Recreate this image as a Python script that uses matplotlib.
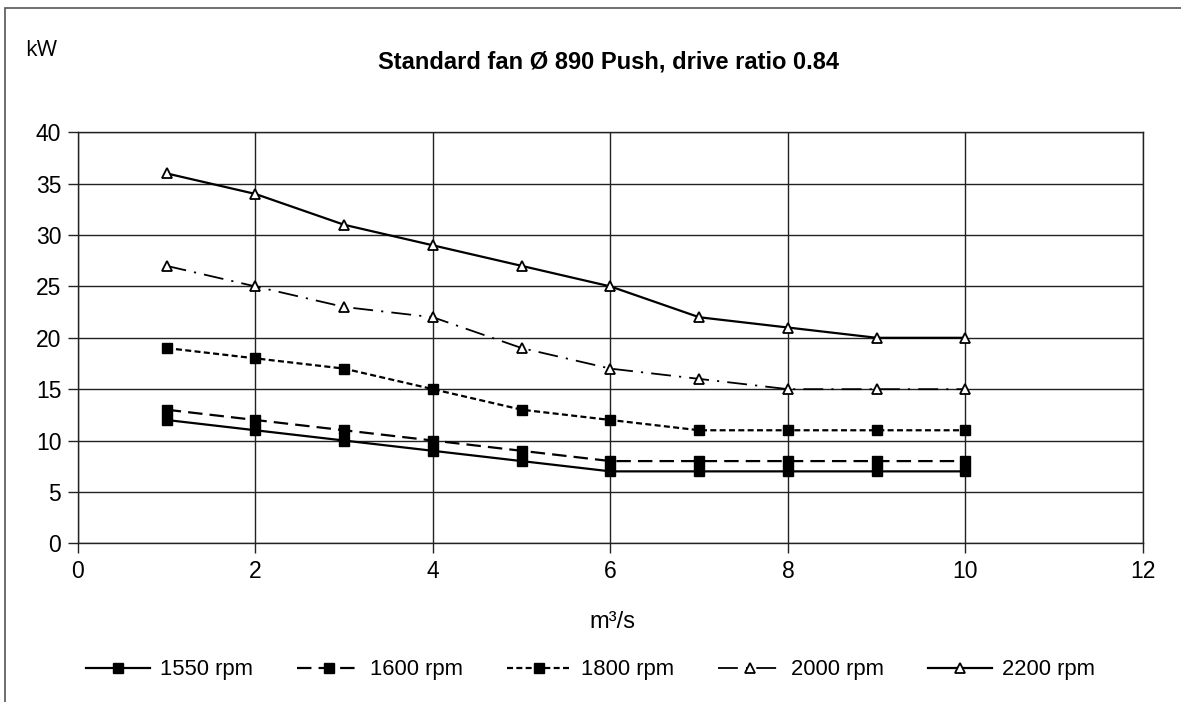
import matplotlib
matplotlib.use("Agg")
import matplotlib.pyplot as plt
from matplotlib.patches import Rectangle

plt.rcParams['font.family'] = ['Liberation Sans', 'DejaVu Sans']

flow = [1, 2, 3, 4, 5, 6, 7, 8, 9, 10]
kw_1550 = [12, 11, 10, 9, 8, 7, 7, 7, 7, 7]
kw_1600 = [13, 12, 11, 10, 9, 8, 8, 8, 8, 8]
kw_1800 = [19, 18, 17, 15, 13, 12, 11, 11, 11, 11]
kw_2000 = [27, 25, 23, 22, 19, 17, 16, 15, 15, 15]
kw_2200 = [36, 34, 31, 29, 27, 25, 22, 21, 20, 20]
labels = ['1550 rpm', '1600 rpm', '1800 rpm', '2000 rpm', '2200 rpm']

fig = plt.figure(figsize=(11.81, 7.02), dpi=100)
ax = fig.add_axes([0.0660, 0.2261, 0.9018, 0.5854])

# outer chart frame (left and top edges visible)
fig.patches.append(Rectangle((5 / 1181, -0.1), 1.2, 1 - 8 / 702 + 0.1,
                             transform=fig.transFigure, fill=False,
                             edgecolor='#555555', lw=1.2))

sq = dict(marker='s', markersize=7.3, markerfacecolor='black', markeredgecolor='black')
tri = dict(marker='^', markersize=7, markerfacecolor='white', markeredgecolor='black',
           markeredgewidth=1.3)

ax.plot(flow, kw_1550, color='black', lw=1.6, linestyle='-', label=labels[0], **sq)
ax.plot(flow, kw_1600, color='black', lw=1.6, linestyle=(0, (6.5, 3.2)), label=labels[1], **sq)
ax.plot(flow, kw_1800, color='black', lw=1.6, linestyle=(0, (2.7, 1.5)), label=labels[2], **sq)
ax.plot(flow, kw_2000, color='black', lw=1.3, linestyle=(0, (11, 4.5, 1.2, 4.5)), label=labels[3], **tri)
ax.plot(flow, kw_2200, color='black', lw=1.6, linestyle='-', label=labels[4], **tri)

ax.set_xlim(0, 12)
ax.set_ylim(0, 40)
ax.set_xticks(range(0, 13, 2))
ax.set_yticks(range(0, 41, 5))
ax.grid(True, color='#222222', lw=1.0)
ax.set_axisbelow(True)
for s in ax.spines.values():
    s.set_color('#222222')
    s.set_linewidth(1.0)
ax.tick_params(direction='out', length=7, width=1, color='#222222',
               labelsize=16.5, pad=5)

fig.text(0.515, 1 - 68 / 702, 'Standard fan Ø 890 Push, drive ratio 0.84',
         ha='center', va='baseline', fontsize=17, fontweight='bold')
fig.text(25 / 1181, 1 - 50 / 702, 'kW', ha='left', va='center', fontsize=16,
         family=['Open Sans', 'DejaVu Sans'])
fig.text(612 / 1181, 1 - 622 / 702, 'm³/s', ha='center', va='center', fontsize=17)

fig.legend(loc='center', bbox_to_anchor=(0.5, 1 - 670 / 702), ncol=5, frameon=False,
           fontsize=15.8, handlelength=2.9, columnspacing=2.0, handletextpad=0.45)

fig.savefig('out.png', dpi=100, facecolor='white')
